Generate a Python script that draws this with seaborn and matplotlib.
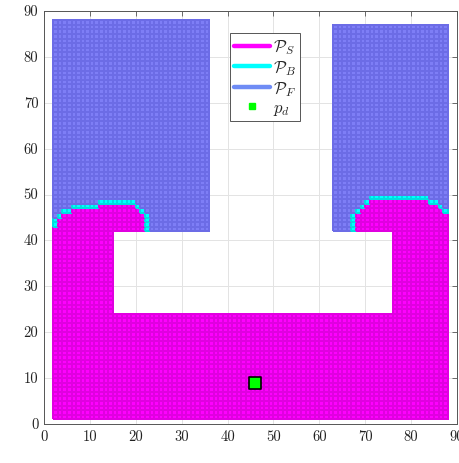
import numpy as np
import matplotlib
matplotlib.use("Agg")
import matplotlib.pyplot as plt
from matplotlib.colors import ListedColormap, to_rgba
from matplotlib.lines import Line2D
import seaborn as sns

# ---------------- data (cell indices) ----------------
n_x = 90
n_y = 90

# P_S (magenta) rectangular blocks: [x0, x1) x [y0, y1)
ps_x0 = [2, 2, 76]
ps_x1 = [88, 15, 88]
ps_y0 = [1, 24, 24]
ps_y1 = [24, 42, 42]

# P_F (blue) rectangular blocks
pf_x0 = [2, 63]
pf_x1 = [36, 88]
pf_y0 = [42, 42]
pf_y1 = [88, 87]

# left bump above y = 42
left_cols = list(range(2, 23))
left_ps_top = [43, 45, 46, 46, 47, 47, 47, 47, 47, 47,
               48, 48, 48, 48, 48, 48, 48, 48, 47, 46, 42]
left_pb_lo = [43, 45, 46, 46, 47, 47, 47, 47, 47, 47,
              48, 48, 48, 48, 48, 48, 48, 48, 47, 46, 42]
left_pb_hi = [44, 45, 46, 46, 47, 47, 47, 47, 47, 47,
              48, 48, 48, 48, 48, 48, 48, 48, 47, 46, 45]

# right bump above y = 42
right_cols = list(range(67, 88))
right_ps_top = [42, 46, 47, 48] + [49] * 13 + [48, 48, 47, 46]
right_pb_lo = [42, 46, 47, 48] + [49] * 13 + [48, 48, 47, 46]
right_pb_hi = [45, 46, 47, 48] + [49] * 13 + [48, 48, 47, 46]

# target point p_d
pd_x = [46]
pd_y = [9]

tick_vals = [0, 10, 20, 30, 40, 50, 60, 70, 80, 90]
legend_labels = [r"$\mathcal{P}_S$", r"$\mathcal{P}_B$", r"$\mathcal{P}_F$", r"$p_d$"]

# ---------------- build cell codes ----------------
code = np.zeros((n_y, n_x), dtype=int)
for x0, x1, y0, y1 in zip(pf_x0, pf_x1, pf_y0, pf_y1):
    code[y0:y1, x0:x1] = 3
for x0, x1, y0, y1 in zip(ps_x0, ps_x1, ps_y0, ps_y1):
    code[y0:y1, x0:x1] = 1
for cols, tops, los, his in [(left_cols, left_ps_top, left_pb_lo, left_pb_hi),
                             (right_cols, right_ps_top, right_pb_lo, right_pb_hi)]:
    for c, t, lo, hi in zip(cols, tops, los, his):
        code[42:t, c] = 1
        code[lo:hi + 1, c] = 2

# ---------------- plot ----------------
sns.set_style("white")
plt.rcParams["mathtext.fontset"] = "cm"
plt.rcParams["font.family"] = ["cmr10", "DejaVu Serif"]
plt.rcParams["axes.formatter.use_mathtext"] = True

fig = plt.figure(figsize=(4.6, 4.64), dpi=100)
ax = fig.add_axes([44 / 460, 39 / 464, 413 / 460, 413 / 464])

col_S = "#ff00ff"
col_B = "#00ffff"
col_F = "#7e7ef6"
edge_S = "#e000e0"
edge_B = "#00dede"
edge_F = "#6c6ce6"

data = np.where(code == 0, np.nan, code.astype(float))
sns.heatmap(data, mask=(code == 0), cmap=ListedColormap([col_S, col_B, col_F]),
            vmin=0.5, vmax=3.5, linewidths=0.25, linecolor="none", cbar=False,
            ax=ax, xticklabels=False, yticklabels=False)
mesh = ax.collections[-1]
edge_lookup = [to_rgba("white", 0.0), to_rgba(edge_S), to_rgba(edge_B), to_rgba(edge_F)]
mesh.set_edgecolor(np.array([edge_lookup[v] for v in code.ravel()]))
mesh.set_linewidth(0.25)

sns.scatterplot(x=pd_x, y=pd_y, marker="s", s=85, color="#00ff00",
                edgecolor="black", linewidth=1.2, ax=ax, zorder=5, legend=False)

ax.set_xlim(0, 90)
ax.set_ylim(0, 90)
ax.set_xticks(tick_vals)
ax.set_yticks(tick_vals)
ax.set_xticklabels([str(v) for v in tick_vals], rotation=0)
ax.set_yticklabels([str(v) for v in tick_vals], rotation=0, va="center")
for s in ax.spines.values():
    s.set_visible(True)
    s.set_color("#555555")
    s.set_linewidth(0.7)
ax.grid(True, color="#e3e3e3", linewidth=0.7)
ax.set_axisbelow(True)
ax.tick_params(direction="in", top=True, right=True, length=3.5, width=0.6,
               color="#555555", labelsize=10.5, labelcolor="#222222", pad=4)
ax.set_xlabel("x index", fontsize=13.5, color="#222222", labelpad=2)
ax.set_ylabel("y index", fontsize=13.5, color="#222222", labelpad=4)

handles = [Line2D([0], [0], color=col_S, lw=3.2),
           Line2D([0], [0], color=col_B, lw=3.2),
           Line2D([0], [0], color="#6f8cf5", lw=3.2),
           Line2D([0], [0], color="#00ff00", marker="s", ls="none", markersize=5)]
leg = ax.legend(handles=handles, labels=legend_labels, loc="upper left",
                bbox_to_anchor=(0.45, 0.946), fontsize=12, frameon=True,
                fancybox=False, framealpha=1, edgecolor="#555555",
                handlelength=2.15, labelspacing=0.12, borderpad=0.25,
                handletextpad=0.2, borderaxespad=0)
leg.get_frame().set_linewidth(0.7)

fig.savefig("out.png", dpi=100)
